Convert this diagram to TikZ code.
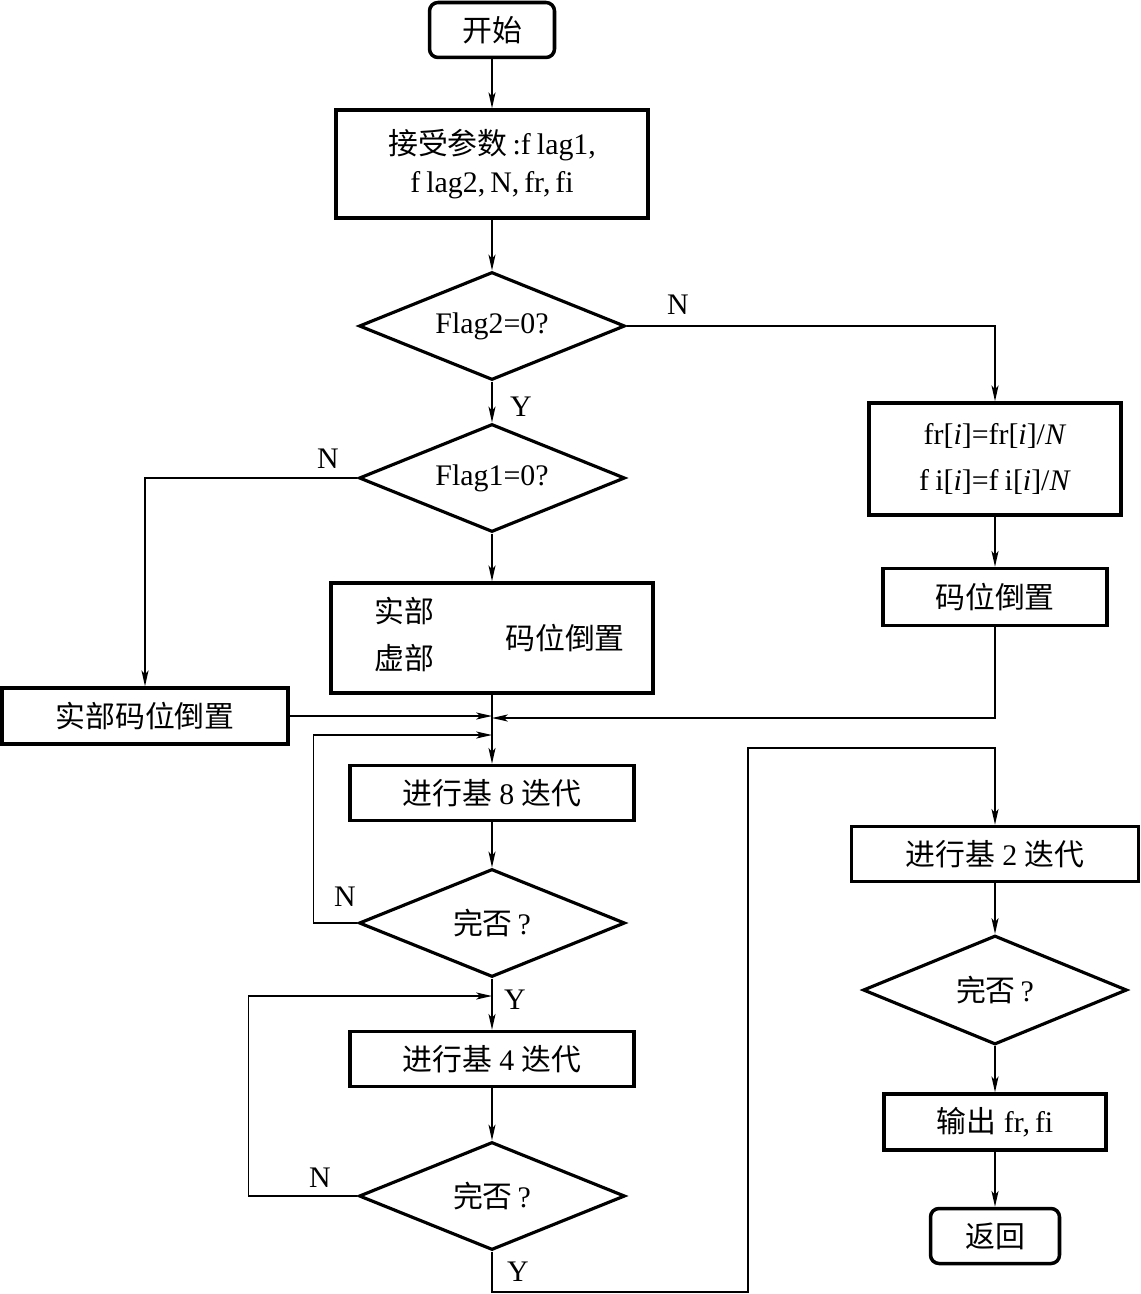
\documentclass[tikz,border=0pt]{standalone}
\usepackage{fontspec}
\setmainfont{Liberation Serif}
\newfontfamily\cjk{Noto Sans CJK SC}
\usetikzlibrary{shapes.geometric,arrows.meta}
\begin{document}
\begin{tikzpicture}[x=0.02cm,y=-0.02cm,
  every node/.style={font=\fontsize{17pt}{21pt}\selectfont},
  pbox/.style={draw,line width=2pt,inner sep=0pt,align=center},
  term/.style={pbox,rounded corners=0.17cm},
  dia/.style={draw,diamond,line width=1.8pt,inner sep=0pt,aspect=2.46,
              minimum width=5.32cm,minimum height=2.16cm},
  conn/.style={line width=0.8pt,-{Stealth[length=9pt,width=4pt,inset=2.2pt]}},
  lbl/.style={inner sep=0pt}]
\useasboundingbox (0,0) rectangle (1141,1294);
% main column
\node[term,minimum width=2.5cm,minimum height=1.1cm] (start) at (492,30) {\cjk 开始};
\node[pbox,minimum width=6.24cm,minimum height=2.16cm,font=\fontsize{17pt}{22pt}\selectfont] (recv) at (492,164)
  {{\cjk 接受参数}\,:f\kern3.5pt lag1,\\f\kern3.5pt lag2,\,N,\,fr,\,fi};
\node[dia] (d2) at (492,326) {Flag2=0?};
\node[dia] (d1) at (492,478) {Flag1=0?};
\node[pbox,minimum width=6.44cm,minimum height=2.2cm] (ri) at (492,638) {};
\node[lbl] (t1) at (404,611) {\cjk 实部};
\node[lbl] (t2) at (404,658) {\cjk 虚部};
\node[lbl] (t3) at (565,638) {\cjk 码位倒置};
\node[pbox,minimum width=5.72cm,minimum height=1.12cm] (rb) at (145,716) {\cjk 实部码位倒置};
\node[pbox,minimum width=5.68cm,minimum height=1.1cm] (r8) at (492,793) {{\cjk 进行基} 8 {\cjk 迭代}};
\node[dia] (dq1) at (492,923) {{\cjk 完否}\,?};
\node[pbox,minimum width=5.68cm,minimum height=1.1cm] (r4) at (492,1059) {{\cjk 进行基} 4 {\cjk 迭代}};
\node[dia] (dq2) at (492,1196) {{\cjk 完否}\,?};
% right column
\node[pbox,minimum width=5.04cm,minimum height=2.24cm,font=\fontsize{17pt}{26pt}\selectfont] (sc) at (995,459)
  {fr[\textit{i}]=fr[\textit{i}]/\textit{N}\\f\kern3.5pt i[\textit{i}]=f\kern3.5pt i[\textit{i}]/\textit{N}};
\node[pbox,minimum width=4.48cm,minimum height=1.14cm] (br) at (995,597) {\cjk 码位倒置};
\node[pbox,minimum width=5.74cm,minimum height=1.1cm] (r2) at (995,854) {{\cjk 进行基} 2 {\cjk 迭代}};
\node[dia,minimum width=5.28cm,minimum height=2.18cm] (dq3) at (995,990) {{\cjk 完否}\,?};
\node[pbox,minimum width=4.44cm,minimum height=1.12cm] (out) at (995,1122) {{\cjk 输出} fr,\,fi};
\node[term,minimum width=2.58cm,minimum height=1.1cm] (ret) at (995,1236) {\cjk 返回};
% junction coordinates
\coordinate (j1) at (492,716);
\coordinate (j2) at (492,718);
\coordinate (j3) at (492,735);
\coordinate (j4) at (492,996);
\coordinate (c1) at (748,1292);
\coordinate (c2) at (995,748);
% connectors
\draw[conn] (start) -- (recv);
\draw[conn] (recv) -- (d2);
\draw[conn] (d2) -- (d1);
\draw[conn] (d2.east) -| (sc.north);
\draw[conn] (d1.west) -| (rb.north);
\draw[conn] (d1) -- (ri);
\draw[conn] (sc) -- (br);
\draw[conn] (br.south) |- (j2);
\draw[conn] (rb.east) -- (j1);
\draw[conn] (ri) -- (r8);
\draw[conn] (r8) -- (dq1);
\draw[conn] (dq1.west) -- ++(-44,0) |- (j3);
\draw[conn] (dq1) -- (r4);
\draw[conn] (r4) -- (dq2);
\draw[conn] (dq2.west) -- ++(-109,0) |- (j4);
\draw[conn] (dq2.south) |- (c1) |- (c2) -- (r2.north);
\draw[conn] (r2) -- (dq3);
\draw[conn] (dq3) -- (out);
\draw[conn] (out) -- (ret);
% labels
\node[lbl] (n1) at (678,305) {N};
\node[lbl] (y1) at (521,407) {Y};
\node[lbl] (n2) at (328,459) {N};
\node[lbl] (n3) at (345,897) {N};
\node[lbl] (y2) at (515,1000) {Y};
\node[lbl] (n4) at (320,1178) {N};
\node[lbl] (y3) at (518,1272) {Y};
\end{tikzpicture}
\end{document}
